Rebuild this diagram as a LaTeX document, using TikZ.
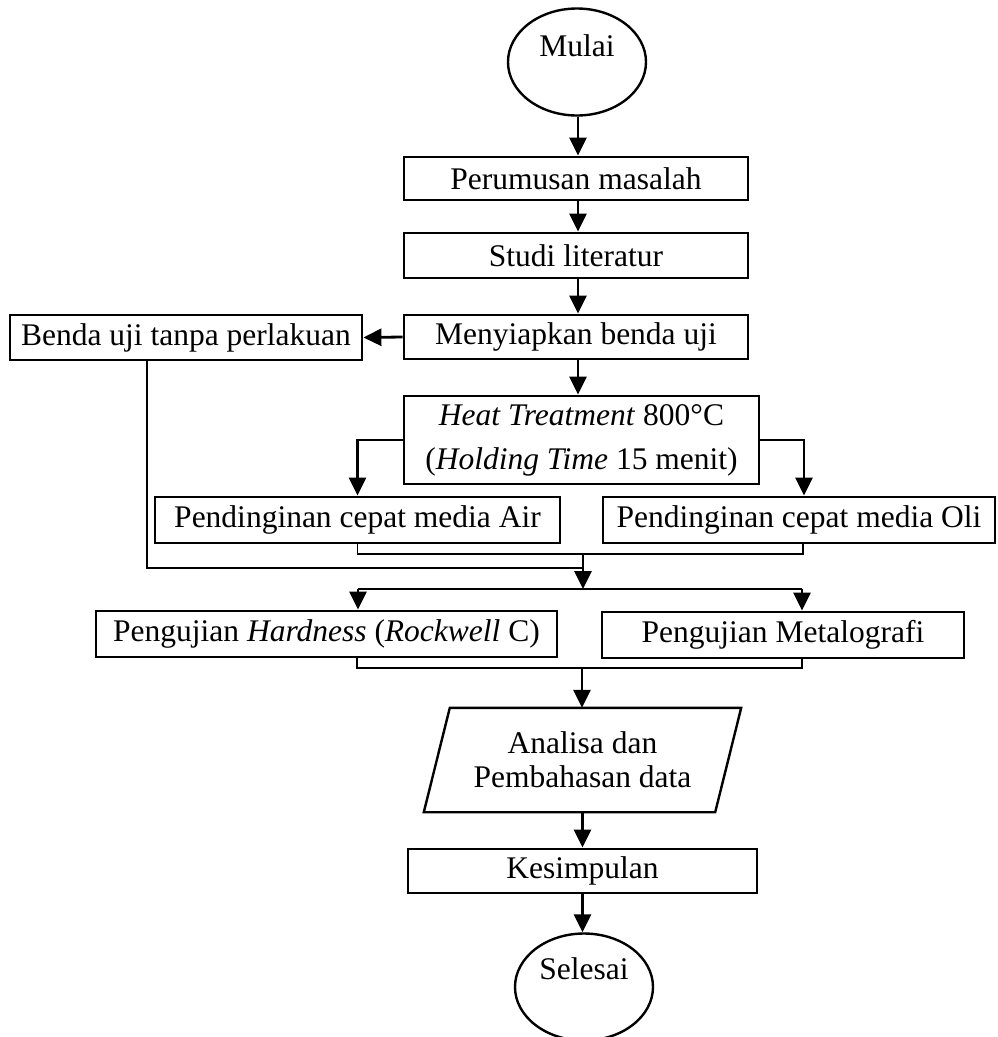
\documentclass[tikz,border=0pt]{standalone}
\usepackage{fontspec}
\setmainfont{Liberation Serif}
\usetikzlibrary{shapes.geometric,arrows.meta}
\newcommand\myfs{\fontsize{31.5}{44}\selectfont}
\begin{document}
\begin{tikzpicture}[x=1pt,y=-1pt,
  box/.style={draw,line width=2.8pt,inner sep=0pt,font=\myfs},
  term/.style={draw,ellipse,line width=2.4pt,minimum width=138pt,minimum height=107pt,inner sep=0pt},
  lbl/.style={anchor=base,font=\myfs,inner sep=0pt},
  arr/.style={line width=2.8pt,-{Triangle[width=17pt,length=18pt]}},
  thinl/.style={line width=1.6pt}]
\useasboundingbox (0,0) rectangle (997,1037);
\fill[white] (0,0) rectangle (997,1037);
% terminals
\node[term] (mulai) at (577,62) {};
\node[lbl] (mulaiT) at (577,56) {Mulai};
\node[term] (selesai) at (584,987) {};
\node[lbl] (selesaiT) at (584,979) {Selesai};
% boxes
\node[box,minimum width=344pt,minimum height=43pt] (perumusan) at (576,178.5) {Perumusan masalah};
\node[box,minimum width=344pt,minimum height=45pt] (studi) at (576,255.5) {Studi literatur};
\node[box,minimum width=344pt,minimum height=44pt] (siap) at (576,337) {Menyiapkan benda uji};
\node[box,minimum width=352pt,minimum height=45pt] (benda) at (186,337.5) {Benda uji tanpa perlakuan};
\node[box,minimum width=355pt,minimum height=88pt,align=center] (heat) at (581.5,440) {\textit{Heat Treatment} 800°C\\(\textit{Holding Time} 15 menit)};
\node[box,minimum width=405pt,minimum height=46pt] (air) at (357.5,520) {Pendinginan cepat media Air};
\node[box,minimum width=392pt,minimum height=46pt] (oli) at (799,520) {Pendinginan cepat media Oli};
\node[box,minimum width=461pt,minimum height=46pt] (hard) at (326.5,634) {Pengujian \textit{Hardness} (\textit{Rockwell} C)};
\node[box,minimum width=362pt,minimum height=46pt] (meta) at (783,635) {Pengujian Metalografi};
\node[minimum width=291pt,minimum height=104pt,inner sep=0pt,align=center,font=\fontsize{31.5}{34}\selectfont] (analisa) at (582.5,760) {Analisa dan\\Pembahasan data};
\draw[line width=2.4pt,line join=miter] ([xshift=13pt]analisa.north west) -- ([xshift=13pt]analisa.north east) -- ([xshift=-13pt]analisa.south east) -- ([xshift=-13pt]analisa.south west) -- cycle;
\node[box,minimum width=349pt,minimum height=44pt] (kesim) at (582.5,871) {Kesimpulan};
% junction coordinates
\coordinate (jL) at (357.5,554);
\coordinate (jR) at (803,554);
\coordinate (mA) at (583,554);
\coordinate (mB) at (583,568);
\coordinate (sp) at (583,589);
\coordinate (sL) at (358,589);
\coordinate (sR) at (802,589);
\coordinate (cL) at (357,668);
\coordinate (cR) at (802,668);
\coordinate (mC) at (582,668);
% connectors
\draw[arr] ([xshift=1pt]mulai.south) -- ([xshift=1pt]mulai.south |- perumusan.north);
\draw[arr] ([xshift=2pt]perumusan.south) -- ([xshift=2pt]studi.north);
\draw[arr] ([xshift=2pt]studi.south) -- ([xshift=2pt]siap.north);
\draw[arr] (siap.west) -- (benda.east);
\draw[arr] ([xshift=2pt]siap.south) -- ([xshift=2pt]siap.south |- heat.north);
\draw[arr] (heat.west) -| (air.north);
\draw[arr] (heat.east) -| ([xshift=5pt]oli.north);
\draw[thinl] (air.south) -- (jL) -- (jR) -- (jR |- oli.south);
\draw[thinl] ([xshift=-39pt]benda.south) |- (mB);
\draw[arr] (mA) -- (sp);
\draw[thinl] (sL) -- (sR);
\draw[arr] (sL) -- (sL |- hard.north);
\draw[arr] (sR) -- (sR |- meta.north);
\draw[thinl] (cL |- hard.south) -- (cL) -- (cR) -- (cR |- meta.south);
\draw[arr] (mC) -- (mC |- analisa.north);
\draw[arr] (analisa.south) -- (analisa.south |- kesim.north);
\draw[arr] (kesim.south) -- (kesim.south |- selesai.north);
\end{tikzpicture}
\end{document}
